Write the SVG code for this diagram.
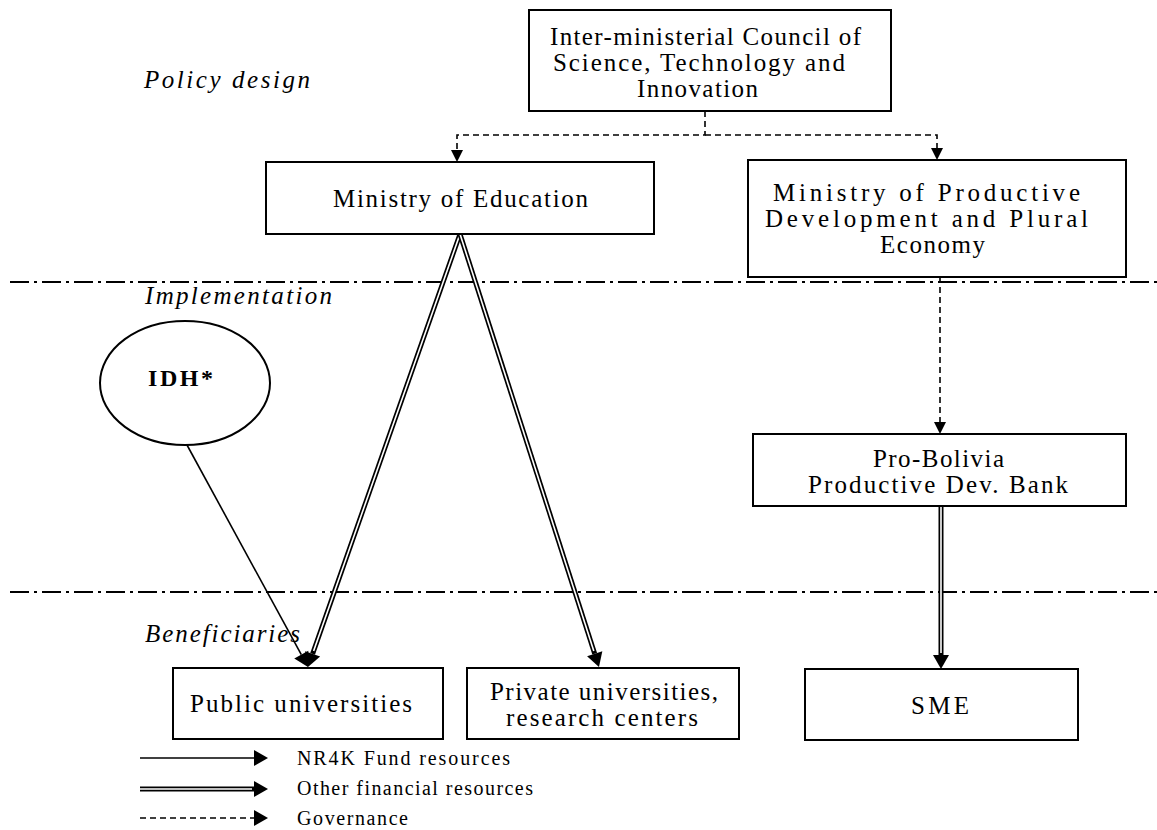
<svg xmlns="http://www.w3.org/2000/svg" width="1157" height="830" viewBox="0 0 1157 830">
<defs>
<style>
.box{fill:#fff;stroke:#000;stroke-width:2}
.t{font-family:"Liberation Serif","Times New Roman",serif;font-size:25px;fill:#000;text-anchor:start}
.sec{font-family:"Liberation Serif","Times New Roman",serif;font-size:25px;font-style:italic;fill:#000}
.leg{font-family:"Liberation Serif","Times New Roman",serif;font-size:20px;fill:#000}
.sep{stroke:#000;stroke-width:2;fill:none;stroke-dasharray:19 5 3 5}
.gov{stroke:#000;stroke-width:1.6;fill:none;stroke-dasharray:6 4}
.fund{stroke:#000;stroke-width:1.6;fill:none}
.dblo{stroke:#000;stroke-width:5;fill:none}
.dbli{stroke:#fff;stroke-width:1.6;fill:none}
</style>
<marker id="ah" markerUnits="userSpaceOnUse" markerWidth="16" markerHeight="18" refX="0" refY="8" orient="auto" overflow="visible">
<path d="M0,0 L14,8 L0,16 z" fill="#000"/>
</marker>
<marker id="ahs" markerUnits="userSpaceOnUse" markerWidth="14" markerHeight="14" refX="0" refY="6" orient="auto" overflow="visible">
<path d="M0,0 L12,6 L0,12 z" fill="#000"/>
</marker>
</defs>
<rect width="1157" height="830" fill="#fff"/>

<g id="separators">
<line class="sep" x1="10" y1="282" x2="1157" y2="282"/>
<line class="sep" x1="10" y1="592" x2="1157" y2="592"/>
</g>

<g id="section-labels">
<text class="sec" x="144" y="88" textLength="166" lengthAdjust="spacing">Policy design</text>
<text class="sec" x="145" y="304" textLength="187" lengthAdjust="spacing">Implementation</text>
<text class="sec" x="145" y="642" textLength="155" lengthAdjust="spacing">Beneficiaries</text>
</g>

<g id="connectors">
<path class="gov" d="M705,111 V135 H457 V150" marker-end="url(#ahs)"/>
<path class="gov" d="M705,135 H937 V148" marker-end="url(#ahs)"/>
<path class="gov" d="M940,277 V422" marker-end="url(#ahs)"/>
<path class="fund" d="M187,445 L301.3,654.7" marker-end="url(#ah)"/>
<path class="dblo" d="M460,234 L312.6,653.8" marker-end="url(#ah)"/>
<path class="dbli" d="M460,234 L313.6,651"/>
<path class="dblo" d="M460,234 L594.7,653.7" marker-end="url(#ah)"/>
<path class="dbli" d="M460,234 L593.8,651"/>
<path class="dblo" d="M941,506 V655" marker-end="url(#ah)"/>
<path class="dbli" d="M941,506 V653"/>
</g>

<g id="council">
<rect class="box" x="529" y="10" width="362" height="101"/>
<text class="t" x="550" y="45" textLength="311" lengthAdjust="spacing">Inter-ministerial Council of</text>
<text class="t" x="553" y="71" textLength="292" lengthAdjust="spacing">Science, Technology and</text>
<text class="t" x="637" y="97" textLength="121" lengthAdjust="spacing">Innovation</text>
</g>

<g id="ministry-education">
<rect class="box" x="266" y="162" width="388" height="72"/>
<text class="t" x="333" y="207" textLength="255" lengthAdjust="spacing">Ministry of Education</text>
</g>

<g id="ministry-productive">
<rect class="box" x="748" y="160" width="378" height="117"/>
<text class="t" x="773" y="201" textLength="307" lengthAdjust="spacing">Ministry of Productive</text>
<text class="t" x="765" y="227" textLength="323" lengthAdjust="spacing">Development and Plural</text>
<text class="t" x="880" y="253" textLength="105" lengthAdjust="spacing">Economy</text>
</g>

<g id="idh">
<ellipse cx="185" cy="383" rx="85" ry="62" fill="#fff" stroke="#000" stroke-width="2"/>
<text x="148" y="386" font-family="'Liberation Serif','Times New Roman',serif" font-size="24" font-weight="bold" textLength="65" lengthAdjust="spacing">IDH*</text>
</g>

<g id="pro-bolivia">
<rect class="box" x="753" y="434" width="373" height="72"/>
<text class="t" x="873" y="467" textLength="131" lengthAdjust="spacing">Pro-Bolivia</text>
<text class="t" x="808" y="493" textLength="260" lengthAdjust="spacing">Productive Dev. Bank</text>
</g>

<g id="public-universities">
<rect class="box" x="173" y="668" width="270" height="71"/>
<text class="t" x="190" y="712" textLength="222" lengthAdjust="spacing">Public universities</text>
</g>

<g id="private-universities">
<rect class="box" x="467" y="668" width="272" height="71"/>
<text class="t" x="490" y="700" textLength="228" lengthAdjust="spacing">Private universities,</text>
<text class="t" x="506" y="726" textLength="192" lengthAdjust="spacing">research centers</text>
</g>

<g id="sme">
<rect class="box" x="805" y="669" width="273" height="71"/>
<text class="t" x="911" y="714" textLength="58" lengthAdjust="spacing">SME</text>
</g>

<g id="legend">
<path class="fund" d="M140,758 H254" marker-end="url(#ah)"/>
<path class="dblo" d="M140,789 H254" marker-end="url(#ah)"/>
<path class="dbli" d="M140,789 H252"/>
<path class="gov" d="M140,818 H254" marker-end="url(#ah)"/>
<text class="leg" x="297" y="765" textLength="213" lengthAdjust="spacing">NR4K Fund resources</text>
<text class="leg" x="297" y="795" textLength="236" lengthAdjust="spacing">Other financial resources</text>
<text class="leg" x="297" y="825" textLength="111" lengthAdjust="spacing">Governance</text>
</g>
</svg>
